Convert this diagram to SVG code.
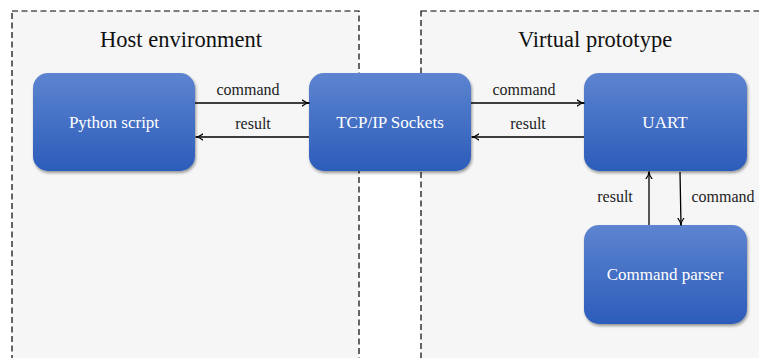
<svg xmlns="http://www.w3.org/2000/svg" width="759" height="358" viewBox="0 0 759 358">
<defs>
<linearGradient id="g" x1="0" y1="0" x2="0" y2="1">
<stop offset="0" stop-color="#5d84d0"/>
<stop offset="1" stop-color="#2c5cba"/>
</linearGradient>
<filter id="sh" x="-10%" y="-10%" width="130%" height="130%">
<feGaussianBlur in="SourceAlpha" stdDeviation="1.5"/>
<feOffset dx="1" dy="2"/>
<feComponentTransfer><feFuncA type="linear" slope="0.4"/></feComponentTransfer>
<feMerge><feMergeNode/><feMergeNode in="SourceGraphic"/></feMerge>
</filter>
<marker id="ah" viewBox="0 0 10 10" refX="9" refY="5" markerWidth="8" markerHeight="8" markerUnits="userSpaceOnUse" orient="auto">
<path d="M0,1 Q5,5 10,5 Q5,5 0,9" fill="none" stroke="#000" stroke-width="1.4"/>
</marker>
<style>
.env{fill:#f6f6f6;stroke:#000;stroke-width:1.2;stroke-dasharray:6,3.5}
.title{font-family:'Liberation Serif','DejaVu Serif',serif;font-size:22.5px;fill:#111;text-anchor:middle}
.node rect{fill:url(#g);filter:url(#sh)}
.node text{font-family:'Liberation Serif','DejaVu Serif',serif;font-size:17px;fill:#fff;text-anchor:middle;dominant-baseline:central}
.lbl{font-family:'Liberation Serif','DejaVu Serif',serif;font-size:16px;fill:#222;text-anchor:middle}
.c{stroke:#000;stroke-width:1.3;fill:none;marker-end:url(#ah)}
</style>
</defs>
<rect width="759" height="358" fill="#fff"/>
<g id="host-env">
<rect class="env" x="12" y="11" width="347" height="360"/>
<text class="title" x="181" y="47">Host environment</text>
</g>
<g id="virtual-env">
<rect class="env" x="421" y="11" width="360" height="360"/>
<text class="title" x="595" y="47">Virtual prototype</text>
</g>
<g id="python" class="node">
<rect x="33" y="73" width="162" height="98" rx="15"/>
<text x="114" y="122">Python script</text>
</g>
<g id="tcp" class="node">
<rect x="309" y="73" width="162" height="98" rx="15"/>
<text x="390" y="122">TCP/IP Sockets</text>
</g>
<g id="uart" class="node">
<rect x="584" y="73" width="163" height="98" rx="15"/>
<text x="665" y="122">UART</text>
</g>
<g id="parser" class="node">
<rect x="584" y="225" width="163" height="99" rx="15"/>
<text x="665" y="274">Command parser</text>
</g>
<g id="connectors">
<line class="c" x1="195" y1="103" x2="309" y2="103"/>
<line class="c" x1="309" y1="137" x2="196" y2="137"/>
<line class="c" x1="471" y1="103" x2="584" y2="103"/>
<line class="c" x1="584" y1="137" x2="472" y2="137"/>
<line class="c" x1="649" y1="225" x2="649" y2="172"/>
<line class="c" x1="680" y1="172" x2="681" y2="225"/>
<text class="lbl" x="248" y="95">command</text>
<text class="lbl" x="253" y="129">result</text>
<text class="lbl" x="524" y="95">command</text>
<text class="lbl" x="528" y="129">result</text>
<text class="lbl" x="615" y="202">result</text>
<text class="lbl" x="723" y="202">command</text>
</g>
</svg>
